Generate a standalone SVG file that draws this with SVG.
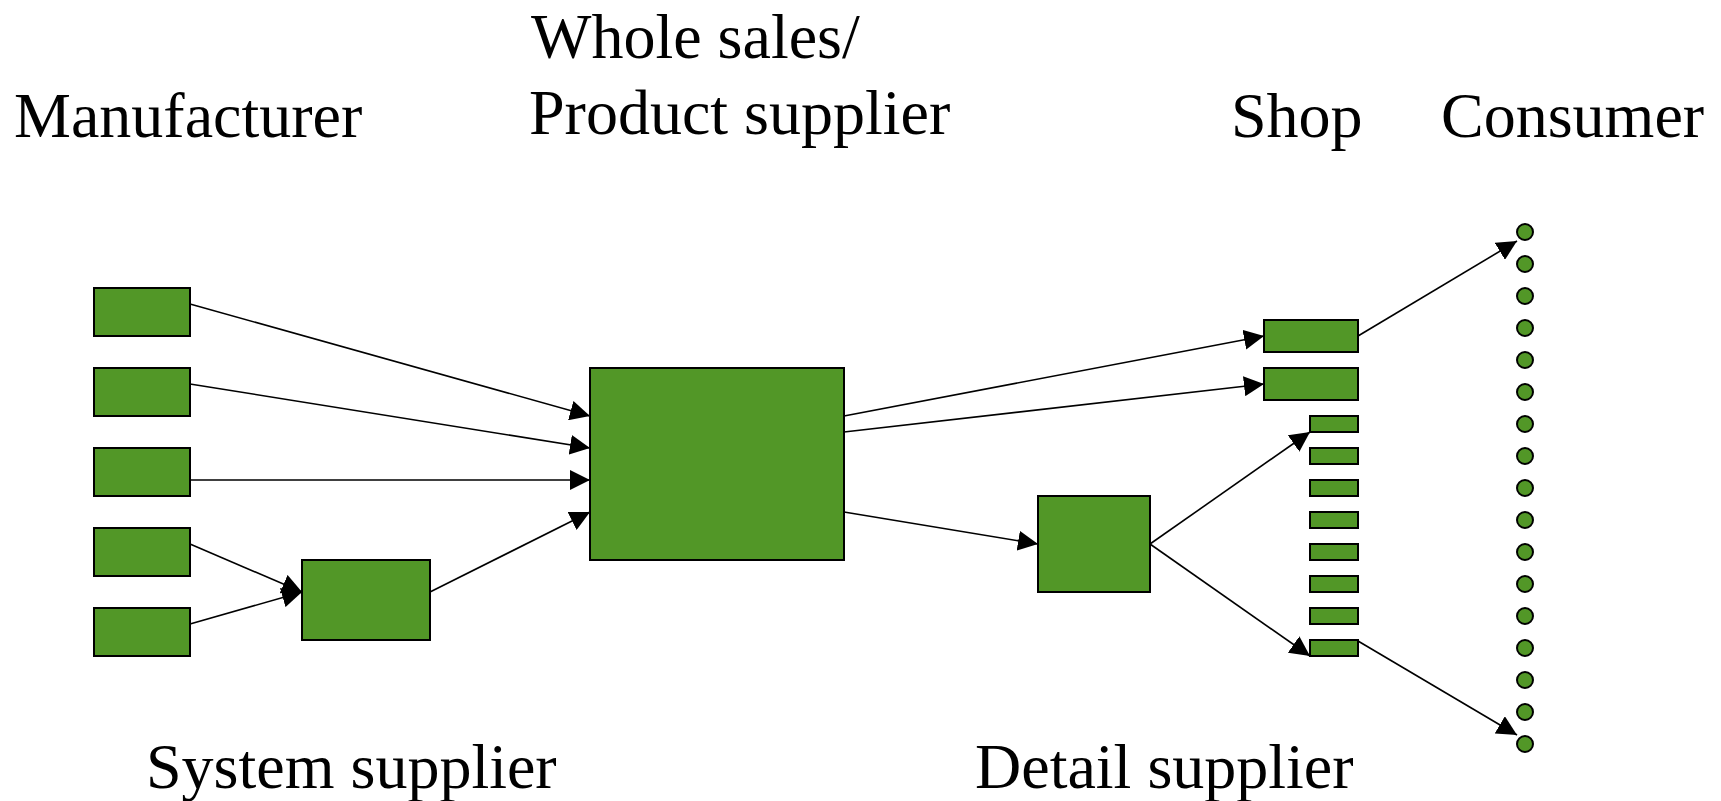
<svg xmlns="http://www.w3.org/2000/svg" width="1721" height="801" viewBox="0 0 1721 801">
  <style>
    .node { fill: #529727; stroke: #000; stroke-width: 2; }
    .dot { fill: #529727; stroke: #000; stroke-width: 2; }
    .edge { fill: none; stroke: #000; stroke-width: 1.6; marker-end: url(#arrow); }
    .label { font-family: "Liberation Serif", "Times New Roman", serif; font-size: 64px; fill: #000; }
  </style>
  <defs>
    <marker id="arrow" markerUnits="userSpaceOnUse" markerWidth="20" markerHeight="20" refX="20" refY="10" orient="auto">
      <path d="M0,0 L20,10 L0,20 z" fill="#000"/>
    </marker>
  </defs>
  <rect width="1721" height="801" fill="#fff"/>

  <!-- column headings -->
  <g id="labels">
    <text class="label" x="14" y="137">Manufacturer</text>
    <text class="label" x="531" y="58">Whole sales/</text>
    <text class="label" x="529" y="134">Product supplier</text>
    <text class="label" x="1231" y="137">Shop</text>
    <text class="label" x="1441" y="137">Consumer</text>
    <text class="label" x="146" y="788">System supplier</text>
    <text class="label" x="975" y="788">Detail supplier</text>
  </g>

  <!-- manufacturers -->
  <g id="manufacturer-1"><rect class="node" x="94" y="288" width="96" height="48"/></g>
  <g id="manufacturer-2"><rect class="node" x="94" y="368" width="96" height="48"/></g>
  <g id="manufacturer-3"><rect class="node" x="94" y="448" width="96" height="48"/></g>
  <g id="manufacturer-4"><rect class="node" x="94" y="528" width="96" height="48"/></g>
  <g id="manufacturer-5"><rect class="node" x="94" y="608" width="96" height="48"/></g>

  <g id="system-supplier"><rect class="node" x="302" y="560" width="128" height="80"/></g>
  <g id="wholesale"><rect class="node" x="590" y="368" width="254" height="192"/></g>
  <g id="detail-supplier"><rect class="node" x="1038" y="496" width="112" height="96"/></g>

  <!-- shops -->
  <g id="shop-1"><rect class="node" x="1264" y="320" width="94" height="32"/></g>
  <g id="shop-2"><rect class="node" x="1264" y="368" width="94" height="32"/></g>
  <g id="shop-small">
    <rect class="node" x="1310" y="416" width="48" height="16"/>
    <rect class="node" x="1310" y="448" width="48" height="16"/>
    <rect class="node" x="1310" y="480" width="48" height="16"/>
    <rect class="node" x="1310" y="512" width="48" height="16"/>
    <rect class="node" x="1310" y="544" width="48" height="16"/>
    <rect class="node" x="1310" y="576" width="48" height="16"/>
    <rect class="node" x="1310" y="608" width="48" height="16"/>
    <rect class="node" x="1310" y="640" width="48" height="16"/>
  </g>

  <!-- consumers -->
  <g id="consumers">
    <circle class="dot" cx="1525" cy="232" r="8"/>
    <circle class="dot" cx="1525" cy="264" r="8"/>
    <circle class="dot" cx="1525" cy="296" r="8"/>
    <circle class="dot" cx="1525" cy="328" r="8"/>
    <circle class="dot" cx="1525" cy="360" r="8"/>
    <circle class="dot" cx="1525" cy="392" r="8"/>
    <circle class="dot" cx="1525" cy="424" r="8"/>
    <circle class="dot" cx="1525" cy="456" r="8"/>
    <circle class="dot" cx="1525" cy="488" r="8"/>
    <circle class="dot" cx="1525" cy="520" r="8"/>
    <circle class="dot" cx="1525" cy="552" r="8"/>
    <circle class="dot" cx="1525" cy="584" r="8"/>
    <circle class="dot" cx="1525" cy="616" r="8"/>
    <circle class="dot" cx="1525" cy="648" r="8"/>
    <circle class="dot" cx="1525" cy="680" r="8"/>
    <circle class="dot" cx="1525" cy="712" r="8"/>
    <circle class="dot" cx="1525" cy="744" r="8"/>
  </g>

  <!-- flows -->
  <g id="connectors">
    <line class="edge" x1="190" y1="304" x2="590" y2="416"/>
    <line class="edge" x1="190" y1="384" x2="590" y2="448"/>
    <line class="edge" x1="190" y1="480" x2="590" y2="480"/>
    <line class="edge" x1="190" y1="544" x2="302" y2="592"/>
    <line class="edge" x1="190" y1="624" x2="302" y2="592"/>
    <line class="edge" x1="430" y1="592" x2="590" y2="512"/>
    <line class="edge" x1="844" y1="416" x2="1264" y2="336"/>
    <line class="edge" x1="844" y1="432" x2="1264" y2="384"/>
    <line class="edge" x1="844" y1="512" x2="1038" y2="544"/>
    <line class="edge" x1="1150" y1="544" x2="1310" y2="432"/>
    <line class="edge" x1="1150" y1="544" x2="1310" y2="656"/>
    <line class="edge" x1="1358" y1="336" x2="1517" y2="241"/>
    <line class="edge" x1="1358" y1="641" x2="1517" y2="735"/>
  </g>
</svg>
